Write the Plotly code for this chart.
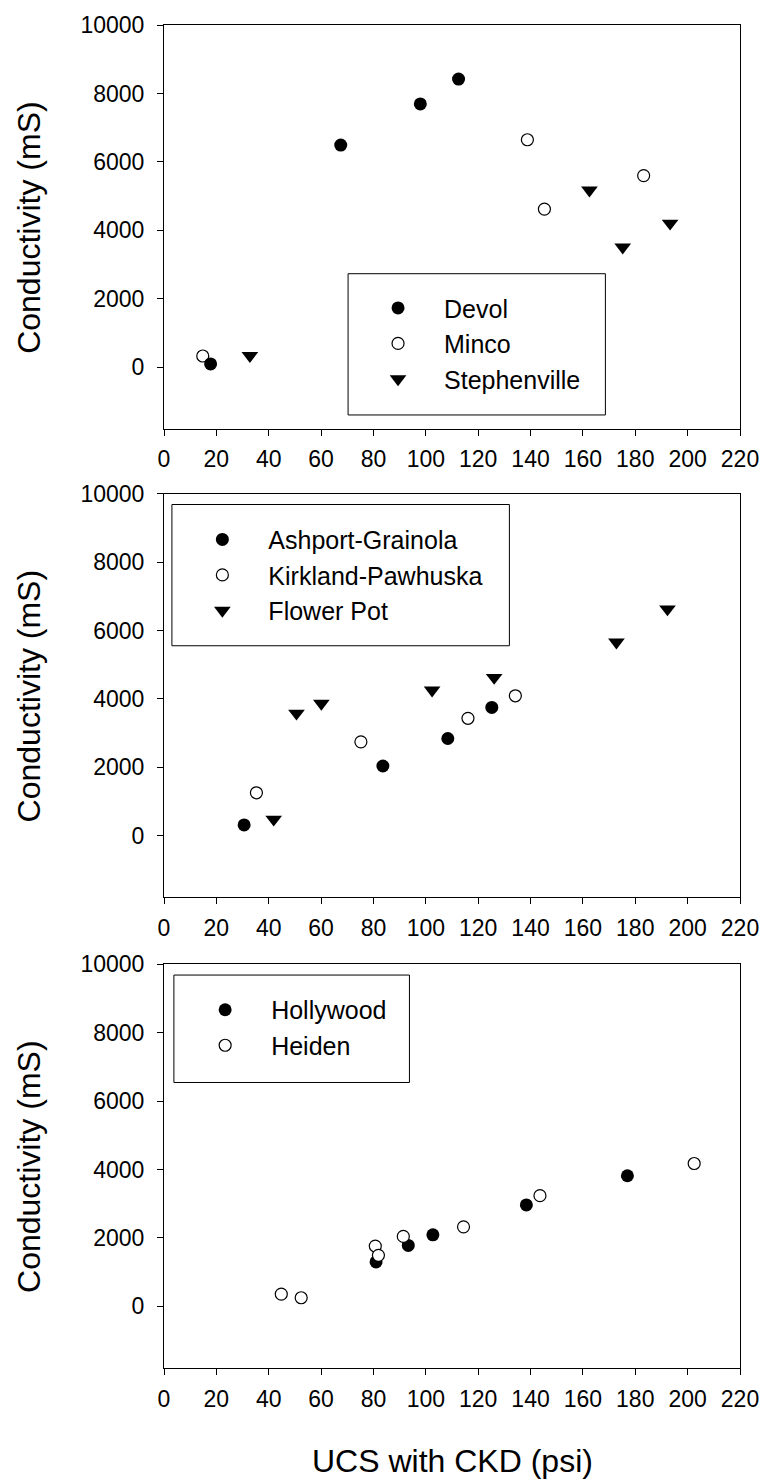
import plotly.graph_objects as go

# ---- data ----
x_ticks = list(range(0, 221, 20))
y_ticks = list(range(0, 10001, 2000))

devol_x = [17.8, 67.5, 97.9, 112.5]
devol_y = [97, 6492, 7694, 8421]
minco_x = [14.8, 138.8, 145.3, 183.2]
minco_y = [329, 6647, 4622, 5601]
steph_x = [32.8, 162.5, 175.2, 193.3]
steph_y = [339, 5174, 3508, 4205]

ash_x = [30.6, 83.6, 108.4, 125.2]
ash_y = [319, 2041, 2844, 3753]
kirk_x = [35.3, 75.2, 116.1, 134.2]
kirk_y = [1258, 2747, 3434, 4092]
flower_x = [41.9, 50.6, 60.1, 102.4, 126.1, 172.8, 192.3]
flower_y = [484, 3579, 3869, 4256, 4623, 5658, 6626]

holly_x = [81.0, 93.3, 102.7, 138.4, 177.0]
holly_y = [1298, 1782, 2092, 2964, 3816]
heiden_x = [44.8, 52.4, 80.7, 81.9, 91.4, 114.4, 143.6, 202.5]
heiden_y = [358, 252, 1763, 1492, 2044, 2324, 3235, 4174]

x_title = "UCS with CKD (psi)"
y_title = "Conductivity (mS)"

FONT = "Liberation Sans, Arial, sans-serif"

filled = dict(symbol="circle", size=13, color="black", line=dict(width=0))
opened = dict(symbol="circle", size=12, color="white", line=dict(width=1.2, color="black"))
tri = dict(symbol="triangle-down", size=14.5, color="black", line=dict(width=0))

fig = go.Figure()

def add(x, y, name, marker, ax, leg, rank):
    fig.add_trace(go.Scatter(x=x, y=y, mode="markers", name=name, marker=marker,
                             xaxis="x" + ax, yaxis="y" + ax, legend=leg,
                             legendrank=rank))

add(minco_x, minco_y, "Minco", opened, "", "legend", 2)
add(devol_x, devol_y, "Devol", filled, "", "legend", 1)
add(steph_x, steph_y, "Stephenville", tri, "", "legend", 3)

add(ash_x, ash_y, "Ashport-Grainola", filled, "2", "legend2", 1)
add(kirk_x, kirk_y, "Kirkland-Pawhuska", opened, "2", "legend2", 2)
add(flower_x, flower_y, "Flower Pot", tri, "2", "legend2", 3)

add(holly_x, holly_y, "Hollywood", filled, "3", "legend3", 1)
add(heiden_x, heiden_y, "Heiden", opened, "3", "legend3", 2)

W, H = 771, 1484
L, R, T, B = 164, 25, 18, 116
PW, PH = W - L - R, H - T - B

def py(pix):
    return 1 - (pix - T) / PH

def px(pix):
    return (pix - L) / PW

domains = [(py(424), py(18)), (py(895), py(489)), (py(1368), py(962))]

axis_common = dict(showline=True, linecolor="black", linewidth=1, mirror=True,
                   ticks="outside", ticklen=6, tickwidth=1, tickcolor="black",
                   showgrid=False, zeroline=False,
                   tickfont=dict(family=FONT, size=23, color="black"))

layout = dict(width=W, height=H, margin=dict(l=L, r=R, t=T, b=B),
              paper_bgcolor="white", plot_bgcolor="white",
              font=dict(family=FONT, color="black"))

for i, dom in enumerate(domains):
    s = "" if i == 0 else str(i + 1)
    layout["xaxis" + s] = dict(axis_common, domain=[0, 1], range=[0, 220],
                               tickvals=x_ticks, anchor="y" + s, ticklabelstandoff=4)
    layout["yaxis" + s] = dict(axis_common, domain=list(dom), range=[-1800, 10000],
                               tickvals=y_ticks, tickformat="d", anchor="x" + s,
                               ticklabelstandoff=8)

leg_common = dict(bgcolor="rgba(0,0,0,0)", borderwidth=0, itemwidth=82,
                  font=dict(family=FONT, size=25, color="black"),
                  xanchor="left", yanchor="top", traceorder="normal")
layout["legend"] = dict(leg_common, x=px(354), y=py(279.5))
layout["legend2"] = dict(leg_common, x=px(176.5), y=py(512.2))
layout["legend3"] = dict(leg_common, x=px(179.3), y=py(985))
layout["showlegend"] = True

boxes = [(350, 610, 268, 410), (172, 513, 500, 642), (174, 412, 973, 1081)]
layout["shapes"] = [dict(type="rect", xref="paper", yref="paper",
                         x0=px(a), x1=px(b), y0=py(d), y1=py(c),
                         line=dict(color="black", width=1), fillcolor="rgba(0,0,0,0)")
                    for a, b, c, d in boxes]

annotations = []
for dom in domains:
    annotations.append(dict(text=y_title, xref="paper", yref="paper",
                            x=px(27.5), y=(dom[0] + dom[1]) / 2, textangle=-90,
                            showarrow=False, xanchor="center", yanchor="middle",
                            font=dict(family=FONT, size=32, color="black")))
annotations.append(dict(text=x_title, xref="paper", yref="paper",
                        x=0.5, y=py(1461), showarrow=False,
                        xanchor="center", yanchor="middle",
                        font=dict(family=FONT, size=32, color="black")))
layout["annotations"] = annotations

fig.update_layout(**layout)
fig.write_html("out.html", config={"displayModeBar": False},
               post_script="document.body.style.margin='0';"
                           "document.body.style.overflow='hidden';")
